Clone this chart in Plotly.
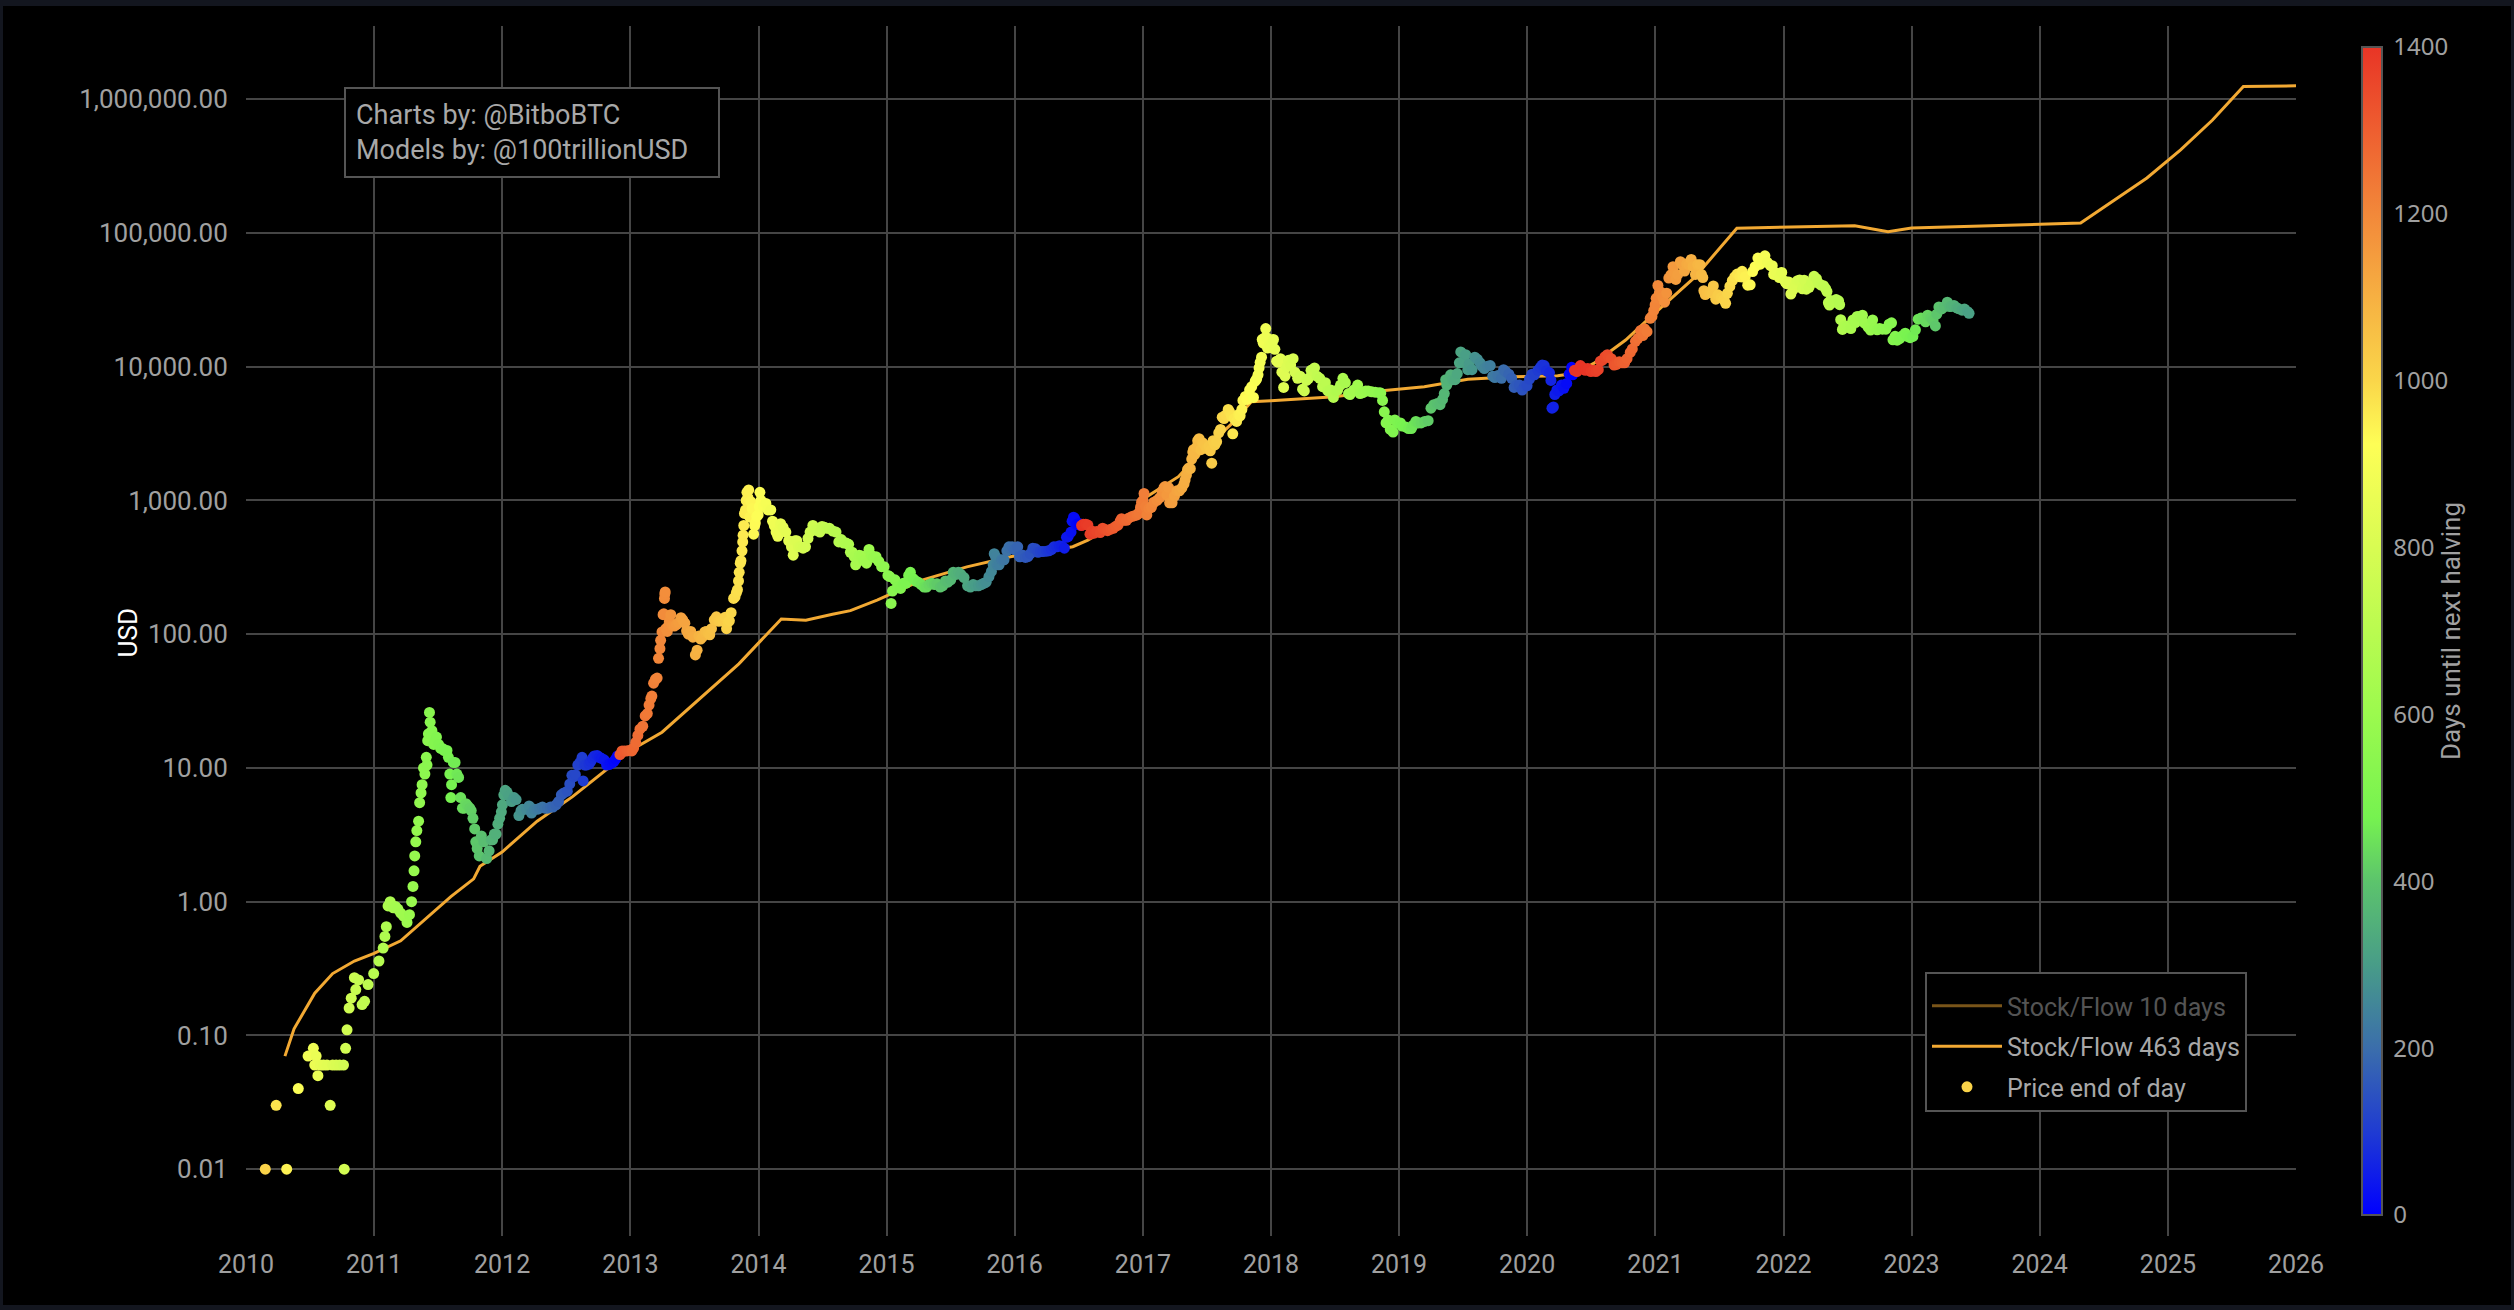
import datetime as dt
import plotly.graph_objects as go

# ---------------- data ----------------
halving_dates = ["2012-11-28", "2016-07-09", "2020-05-11", "2024-04-20"]

# price end of day, (date, USD), per year
price_2010 = [
    ("2010-02-25", 0.01), ("2010-03-28", 0.03), ("2010-04-27", 0.01), ("2010-05-30", 0.04),
    ("2010-06-27", 0.07), ("2010-07-12", 0.08), ("2010-07-16", 0.06), ("2010-07-20", 0.07),
    ("2010-07-25", 0.05), ("2010-08-01", 0.06), ("2010-08-10", 0.06), ("2010-08-20", 0.06),
    ("2010-08-29", 0.03), ("2010-09-05", 0.06), ("2010-09-15", 0.06), ("2010-09-25", 0.06),
    ("2010-10-06", 0.06), ("2010-10-08", 0.01), ("2010-10-12", 0.08), ("2010-10-16", 0.11),
    ("2010-10-22", 0.16), ("2010-10-28", 0.19), ("2010-11-06", 0.27), ("2010-11-10", 0.22),
    ("2010-11-18", 0.26), ("2010-11-28", 0.17), ("2010-12-05", 0.18), ("2010-12-15", 0.24),
    ("2010-12-31", 0.29),
]
price_2011 = [
    ("2011-01-15", 0.36), ("2011-01-27", 0.45), ("2011-02-01", 0.55), ("2011-02-05", 0.65),
    ("2011-02-10", 0.93), ("2011-02-16", 1.0), ("2011-02-25", 0.9), ("2011-03-03", 0.92),
    ("2011-03-10", 0.88), ("2011-03-18", 0.82), ("2011-03-26", 0.78), ("2011-04-05", 0.70),
    ("2011-04-12", 0.80), ("2011-04-18", 1.0), ("2011-04-22", 1.3), ("2011-04-25", 1.7),
    ("2011-04-27", 2.2), ("2011-04-30", 2.8), ("2011-05-03", 3.4), ("2011-05-08", 4.0),
    ("2011-05-11", 5.5), ("2011-05-15", 6.5), ("2011-05-18", 7.5), ("2011-05-22", 10.0),
    ("2011-05-26", 9.0), ("2011-05-30", 12.0), ("2011-06-01", 10.5), ("2011-06-03", 16.0),
    ("2011-06-05", 18.0), ("2011-06-08", 26.0), ("2011-06-10", 22.0), ("2011-06-12", 18.0),
    ("2011-06-15", 19.0), ("2011-06-20", 15.0), ("2011-06-24", 16.0), ("2011-06-28", 17.0),
    ("2011-07-04", 15.0), ("2011-07-10", 14.0), ("2011-07-15", 14.0), ("2011-07-20", 13.5),
    ("2011-07-28", 13.5), ("2011-08-01", 12.0), ("2011-08-05", 9.0), ("2011-08-08", 6.0),
    ("2011-08-10", 7.5), ("2011-08-15", 11.0), ("2011-08-20", 11.0), ("2011-08-25", 9.0),
    ("2011-08-30", 8.5), ("2011-09-05", 6.0), ("2011-09-10", 5.0), ("2011-09-15", 5.0),
    ("2011-09-20", 5.4), ("2011-09-25", 5.2), ("2011-10-01", 5.0), ("2011-10-05", 4.8),
    ("2011-10-10", 4.2), ("2011-10-15", 3.5), ("2011-10-18", 2.8), ("2011-10-22", 2.5),
    ("2011-10-28", 2.2), ("2011-11-03", 3.1), ("2011-11-10", 2.8), ("2011-11-18", 2.1),
    ("2011-11-25", 2.4), ("2011-12-01", 2.9), ("2011-12-05", 2.9), ("2011-12-10", 3.2),
    ("2011-12-15", 3.2), ("2011-12-20", 3.8), ("2011-12-25", 4.2), ("2011-12-30", 4.7),
]
price_2012 = [
    ("2012-01-02", 5.3), ("2012-01-06", 6.3), ("2012-01-10", 6.8), ("2012-01-15", 6.6),
    ("2012-01-20", 6.2), ("2012-01-28", 5.6), ("2012-02-04", 6.0), ("2012-02-10", 5.8),
    ("2012-02-18", 4.4), ("2012-02-24", 4.8), ("2012-02-28", 4.9), ("2012-03-10", 4.9),
    ("2012-03-18", 5.2), ("2012-03-25", 4.6), ("2012-04-02", 4.9), ("2012-04-10", 4.9),
    ("2012-04-18", 5.0), ("2012-04-25", 5.1), ("2012-05-02", 5.0), ("2012-05-10", 5.0),
    ("2012-05-18", 5.1), ("2012-05-25", 5.1), ("2012-06-03", 5.3), ("2012-06-10", 5.6),
    ("2012-06-18", 6.3), ("2012-06-25", 6.5), ("2012-07-05", 6.7), ("2012-07-12", 7.6),
    ("2012-07-18", 8.8), ("2012-07-24", 8.6), ("2012-07-28", 8.9), ("2012-08-04", 10.5),
    ("2012-08-10", 11.0), ("2012-08-16", 12.0), ("2012-08-19", 8.0), ("2012-08-24", 10.5),
    ("2012-08-28", 10.5), ("2012-09-05", 10.7), ("2012-09-10", 11.2), ("2012-09-15", 11.8),
    ("2012-09-20", 12.3), ("2012-09-28", 12.4), ("2012-10-05", 12.0), ("2012-10-10", 11.8),
    ("2012-10-18", 11.5), ("2012-10-25", 10.5), ("2012-11-01", 10.6), ("2012-11-05", 10.8),
    ("2012-11-10", 10.9), ("2012-11-15", 11.2), ("2012-11-20", 11.7), ("2012-11-25", 12.3),
    ("2012-12-02", 12.6), ("2012-12-08", 13.4), ("2012-12-15", 13.4), ("2012-12-22", 13.4),
    ("2012-12-28", 13.5),
]
price_2013 = [
    ("2013-01-05", 13.4), ("2013-01-10", 14.1), ("2013-01-16", 15.5), ("2013-01-22", 17.5),
    ("2013-01-28", 19.5), ("2013-02-05", 20.5), ("2013-02-12", 24.5), ("2013-02-18", 25.5),
    ("2013-02-23", 29.5), ("2013-02-28", 33.0), ("2013-03-03", 34.5), ("2013-03-08", 43.0),
    ("2013-03-13", 46.0), ("2013-03-18", 47.0), ("2013-03-22", 66.0), ("2013-03-26", 78.0),
    ("2013-03-28", 90.0), ("2013-04-01", 104.0), ("2013-04-04", 140.0), ("2013-04-06", 142.0),
    ("2013-04-08", 185.0), ("2013-04-09", 200.0), ("2013-04-10", 207.0), ("2013-04-12", 110.0),
    ("2013-04-16", 105.0), ("2013-04-19", 115.0), ("2013-04-22", 125.0), ("2013-04-26", 140.0),
    ("2013-05-01", 116.0), ("2013-05-06", 115.0), ("2013-05-12", 118.0), ("2013-05-18", 122.0),
    ("2013-05-25", 133.0), ("2013-05-30", 128.0), ("2013-06-05", 121.0), ("2013-06-10", 106.0),
    ("2013-06-15", 100.0), ("2013-06-22", 105.0), ("2013-06-28", 95.0), ("2013-07-05", 70.0),
    ("2013-07-10", 76.0), ("2013-07-15", 97.0), ("2013-07-20", 92.0), ("2013-07-25", 95.0),
    ("2013-08-01", 104.0), ("2013-08-05", 105.0), ("2013-08-10", 102.0), ("2013-08-15", 99.0),
    ("2013-08-20", 110.0), ("2013-08-28", 128.0), ("2013-09-03", 135.0), ("2013-09-10", 125.0),
    ("2013-09-15", 127.0), ("2013-09-20", 126.0), ("2013-09-28", 134.0), ("2013-10-02", 110.0),
    ("2013-10-06", 123.0), ("2013-10-10", 126.0), ("2013-10-15", 145.0), ("2013-10-22", 185.0),
    ("2013-10-26", 190.0), ("2013-10-30", 205.0), ("2013-11-02", 215.0), ("2013-11-05", 250.0),
    ("2013-11-07", 290.0), ("2013-11-10", 340.0), ("2013-11-12", 355.0), ("2013-11-15", 420.0),
    ("2013-11-17", 490.0), ("2013-11-18", 550.0), ("2013-11-20", 650.0), ("2013-11-22", 800.0),
    ("2013-11-25", 850.0), ("2013-11-27", 1000.0), ("2013-11-29", 1150.0), ("2013-12-02", 1050.0),
    ("2013-12-04", 1200.0), ("2013-12-07", 750.0), ("2013-12-10", 980.0), ("2013-12-14", 870.0),
    ("2013-12-18", 560.0), ("2013-12-21", 650.0), ("2013-12-23", 680.0), ("2013-12-27", 760.0),
    ("2013-12-31", 780.0),
]
price_2014 = [
    ("2014-01-03", 900.0), ("2014-01-05", 1150.0), ("2014-01-08", 1000.0), ("2014-01-15", 900.0),
    ("2014-01-22", 950.0), ("2014-01-28", 850.0), ("2014-02-05", 850.0), ("2014-02-10", 700.0),
    ("2014-02-15", 650.0), ("2014-02-20", 580.0), ("2014-02-25", 540.0), ("2014-03-01", 600.0),
    ("2014-03-05", 670.0), ("2014-03-12", 630.0), ("2014-03-20", 580.0), ("2014-03-28", 500.0),
    ("2014-04-05", 450.0), ("2014-04-10", 390.0), ("2014-04-15", 500.0), ("2014-04-20", 500.0),
    ("2014-04-25", 450.0), ("2014-05-01", 450.0), ("2014-05-08", 440.0), ("2014-05-15", 450.0),
    ("2014-05-22", 520.0), ("2014-05-28", 580.0), ("2014-06-05", 650.0), ("2014-06-12", 600.0),
    ("2014-06-18", 600.0), ("2014-06-25", 580.0), ("2014-07-01", 640.0), ("2014-07-08", 630.0),
    ("2014-07-15", 620.0), ("2014-07-22", 620.0), ("2014-08-01", 590.0), ("2014-08-10", 580.0),
    ("2014-08-18", 490.0), ("2014-08-25", 510.0), ("2014-09-01", 480.0), ("2014-09-08", 480.0),
    ("2014-09-15", 470.0), ("2014-09-20", 410.0), ("2014-09-25", 410.0), ("2014-10-01", 380.0),
    ("2014-10-05", 330.0), ("2014-10-10", 360.0), ("2014-10-15", 390.0), ("2014-10-22", 385.0),
    ("2014-10-28", 355.0), ("2014-11-05", 340.0), ("2014-11-12", 430.0), ("2014-11-18", 390.0),
    ("2014-11-25", 375.0), ("2014-12-02", 380.0), ("2014-12-10", 350.0), ("2014-12-18", 320.0),
    ("2014-12-25", 320.0),
]
price_2015 = [
    ("2015-01-05", 275.0), ("2015-01-10", 270.0), ("2015-01-14", 170.0), ("2015-01-18", 210.0),
    ("2015-01-25", 255.0), ("2015-02-01", 225.0), ("2015-02-10", 220.0), ("2015-02-18", 240.0),
    ("2015-02-25", 240.0), ("2015-03-05", 275.0), ("2015-03-10", 290.0), ("2015-03-18", 260.0),
    ("2015-03-25", 250.0), ("2015-04-01", 245.0), ("2015-04-10", 235.0), ("2015-04-18", 225.0),
    ("2015-04-25", 225.0), ("2015-05-02", 235.0), ("2015-05-10", 240.0), ("2015-05-18", 235.0),
    ("2015-05-25", 238.0), ("2015-06-03", 225.0), ("2015-06-10", 230.0), ("2015-06-18", 250.0),
    ("2015-06-25", 245.0), ("2015-07-03", 255.0), ("2015-07-10", 290.0), ("2015-07-18", 280.0),
    ("2015-07-25", 290.0), ("2015-08-01", 280.0), ("2015-08-10", 265.0), ("2015-08-20", 230.0),
    ("2015-08-28", 225.0), ("2015-09-05", 235.0), ("2015-09-12", 230.0), ("2015-09-20", 230.0),
    ("2015-09-28", 235.0), ("2015-10-05", 240.0), ("2015-10-12", 245.0), ("2015-10-20", 270.0),
    ("2015-10-27", 295.0), ("2015-11-01", 330.0), ("2015-11-04", 400.0), ("2015-11-08", 380.0),
    ("2015-11-12", 330.0), ("2015-11-18", 330.0), ("2015-11-25", 360.0), ("2015-12-02", 360.0),
    ("2015-12-10", 420.0), ("2015-12-16", 450.0), ("2015-12-20", 440.0), ("2015-12-25", 450.0),
    ("2015-12-31", 430.0),
]
price_2016 = [
    ("2016-01-05", 430.0), ("2016-01-10", 450.0), ("2016-01-15", 380.0), ("2016-01-18", 380.0),
    ("2016-01-25", 390.0), ("2016-02-01", 375.0), ("2016-02-08", 380.0), ("2016-02-15", 400.0),
    ("2016-02-22", 440.0), ("2016-03-01", 435.0), ("2016-03-08", 410.0), ("2016-03-15", 415.0),
    ("2016-03-22", 415.0), ("2016-04-01", 418.0), ("2016-04-08", 420.0), ("2016-04-15", 430.0),
    ("2016-04-22", 450.0), ("2016-05-01", 450.0), ("2016-05-08", 458.0), ("2016-05-15", 455.0),
    ("2016-05-22", 440.0), ("2016-05-28", 530.0), ("2016-06-02", 540.0), ("2016-06-10", 580.0),
    ("2016-06-13", 700.0), ("2016-06-17", 750.0), ("2016-06-20", 735.0), ("2016-06-25", 660.0),
    ("2016-06-30", 670.0), ("2016-07-05", 670.0), ("2016-07-08", 650.0), ("2016-07-10", 650.0),
    ("2016-07-15", 665.0), ("2016-07-22", 665.0), ("2016-07-28", 655.0), ("2016-08-03", 560.0),
    ("2016-08-08", 590.0), ("2016-08-15", 570.0), ("2016-08-22", 585.0), ("2016-09-01", 575.0),
    ("2016-09-08", 620.0), ("2016-09-15", 608.0), ("2016-09-22", 595.0), ("2016-10-01", 610.0),
    ("2016-10-08", 620.0), ("2016-10-15", 640.0), ("2016-10-22", 655.0), ("2016-10-28", 700.0),
    ("2016-11-01", 730.0), ("2016-11-08", 710.0), ("2016-11-15", 710.0), ("2016-11-22", 740.0),
    ("2016-12-01", 760.0), ("2016-12-08", 770.0), ("2016-12-15", 780.0), ("2016-12-20", 800.0),
    ("2016-12-25", 890.0), ("2016-12-28", 970.0),
]
price_2017 = [
    ("2017-01-01", 1000.0), ("2017-01-04", 1130.0), ("2017-01-08", 900.0), ("2017-01-12", 780.0),
    ("2017-01-18", 870.0), ("2017-01-25", 890.0), ("2017-02-01", 970.0), ("2017-02-10", 1000.0),
    ("2017-02-18", 1050.0), ("2017-02-25", 1170.0), ("2017-03-02", 1250.0), ("2017-03-05", 1270.0),
    ("2017-03-10", 1100.0), ("2017-03-15", 1250.0), ("2017-03-18", 960.0), ("2017-03-25", 960.0),
    ("2017-04-01", 1080.0), ("2017-04-08", 1180.0), ("2017-04-15", 1180.0), ("2017-04-22", 1240.0),
    ("2017-04-28", 1330.0), ("2017-05-01", 1420.0), ("2017-05-05", 1550.0), ("2017-05-08", 1700.0),
    ("2017-05-12", 1750.0), ("2017-05-16", 1730.0), ("2017-05-20", 2040.0), ("2017-05-23", 2300.0),
    ("2017-05-25", 2400.0), ("2017-05-28", 2200.0), ("2017-06-03", 2500.0), ("2017-06-06", 2800.0),
    ("2017-06-10", 2900.0), ("2017-06-15", 2400.0), ("2017-06-20", 2700.0), ("2017-06-25", 2600.0),
    ("2017-07-01", 2450.0), ("2017-07-08", 2550.0), ("2017-07-12", 2350.0), ("2017-07-16", 1900.0),
    ("2017-07-20", 2800.0), ("2017-07-25", 2600.0), ("2017-07-30", 2750.0), ("2017-08-05", 3200.0),
    ("2017-08-10", 3400.0), ("2017-08-15", 4200.0), ("2017-08-20", 4100.0), ("2017-08-25", 4350.0),
    ("2017-09-01", 4800.0), ("2017-09-05", 4600.0), ("2017-09-10", 4300.0), ("2017-09-14", 3150.0),
    ("2017-09-18", 4100.0), ("2017-09-25", 3900.0), ("2017-10-01", 4400.0), ("2017-10-05", 4300.0),
    ("2017-10-10", 4800.0), ("2017-10-13", 5600.0), ("2017-10-20", 6000.0), ("2017-10-25", 5700.0),
    ("2017-11-01", 6700.0), ("2017-11-07", 7100.0), ("2017-11-12", 5900.0), ("2017-11-17", 7800.0),
    ("2017-11-21", 8100.0), ("2017-11-25", 8700.0), ("2017-11-28", 9800.0), ("2017-12-01", 10800.0),
    ("2017-12-05", 11800.0), ("2017-12-07", 16000.0), ("2017-12-10", 15000.0), ("2017-12-13", 16400.0),
    ("2017-12-17", 19300.0), ("2017-12-20", 16500.0), ("2017-12-22", 13800.0), ("2017-12-25", 13900.0),
    ("2017-12-28", 14500.0), ("2017-12-31", 14000.0),
]
price_2018 = [
    ("2018-01-04", 15000.0), ("2018-01-08", 16000.0), ("2018-01-12", 13500.0), ("2018-01-17", 11000.0),
    ("2018-01-22", 10800.0), ("2018-01-28", 11500.0), ("2018-02-01", 9100.0), ("2018-02-06", 7000.0),
    ("2018-02-10", 8500.0), ("2018-02-15", 10000.0), ("2018-02-20", 11200.0), ("2018-02-26", 10300.0),
    ("2018-03-05", 11500.0), ("2018-03-10", 9100.0), ("2018-03-18", 8200.0), ("2018-03-25", 8500.0),
    ("2018-04-01", 6800.0), ("2018-04-06", 6600.0), ("2018-04-12", 7900.0), ("2018-04-18", 8200.0),
    ("2018-04-25", 9400.0), ("2018-05-05", 9800.0), ("2018-05-12", 8500.0), ("2018-05-20", 8200.0),
    ("2018-05-28", 7100.0), ("2018-06-05", 7600.0), ("2018-06-12", 6600.0), ("2018-06-20", 6700.0),
    ("2018-06-28", 5900.0), ("2018-07-05", 6600.0), ("2018-07-10", 6700.0), ("2018-07-18", 7300.0),
    ("2018-07-25", 8200.0), ("2018-08-01", 7600.0), ("2018-08-10", 6300.0), ("2018-08-14", 6200.0),
    ("2018-08-25", 6700.0), ("2018-09-05", 7300.0), ("2018-09-12", 6300.0), ("2018-09-20", 6400.0),
    ("2018-09-28", 6600.0), ("2018-10-05", 6600.0), ("2018-10-15", 6500.0), ("2018-10-25", 6450.0),
    ("2018-11-05", 6400.0), ("2018-11-10", 6350.0), ("2018-11-15", 5600.0), ("2018-11-20", 4600.0),
    ("2018-11-25", 3800.0), ("2018-12-01", 4000.0), ("2018-12-07", 3400.0), ("2018-12-15", 3250.0),
    ("2018-12-20", 4000.0), ("2018-12-28", 3800.0),
]
price_2019 = [
    ("2019-01-05", 3800.0), ("2019-01-10", 3600.0), ("2019-01-20", 3550.0), ("2019-01-28", 3450.0),
    ("2019-02-05", 3450.0), ("2019-02-10", 3650.0), ("2019-02-18", 3900.0), ("2019-02-25", 3800.0),
    ("2019-03-05", 3800.0), ("2019-03-15", 3900.0), ("2019-03-25", 3950.0), ("2019-04-02", 4900.0),
    ("2019-04-10", 5200.0), ("2019-04-20", 5300.0), ("2019-04-28", 5200.0), ("2019-05-05", 5700.0),
    ("2019-05-10", 6300.0), ("2019-05-14", 8000.0), ("2019-05-17", 7300.0), ("2019-05-22", 7900.0),
    ("2019-05-28", 8700.0), ("2019-06-03", 8000.0), ("2019-06-10", 8000.0), ("2019-06-16", 8900.0),
    ("2019-06-22", 10700.0), ("2019-06-26", 12900.0), ("2019-06-30", 10800.0), ("2019-07-05", 11000.0),
    ("2019-07-10", 12300.0), ("2019-07-16", 9500.0), ("2019-07-20", 10500.0), ("2019-07-28", 9500.0),
    ("2019-08-05", 11800.0), ("2019-08-12", 11400.0), ("2019-08-20", 10700.0), ("2019-08-25", 10100.0),
    ("2019-09-01", 9700.0), ("2019-09-10", 10100.0), ("2019-09-18", 10200.0), ("2019-09-25", 8500.0),
    ("2019-10-01", 8300.0), ("2019-10-10", 8600.0), ("2019-10-20", 8200.0), ("2019-10-26", 9500.0),
    ("2019-11-01", 9200.0), ("2019-11-10", 8800.0), ("2019-11-18", 8200.0), ("2019-11-25", 7000.0),
    ("2019-12-02", 7300.0), ("2019-12-10", 7300.0), ("2019-12-18", 6700.0), ("2019-12-25", 7200.0),
]
price_2020 = [
    ("2020-01-01", 7200.0), ("2020-01-08", 8100.0), ("2020-01-15", 8800.0), ("2020-01-22", 8700.0),
    ("2020-02-01", 9400.0), ("2020-02-08", 9900.0), ("2020-02-13", 10300.0), ("2020-02-19", 10200.0),
    ("2020-02-25", 9300.0), ("2020-03-05", 9000.0), ("2020-03-09", 7900.0), ("2020-03-12", 4900.0),
    ("2020-03-16", 5000.0), ("2020-03-20", 6200.0), ("2020-03-26", 6700.0), ("2020-04-01", 6600.0),
    ("2020-04-08", 7300.0), ("2020-04-15", 6900.0), ("2020-04-23", 7500.0), ("2020-04-30", 8800.0),
    ("2020-05-07", 9900.0), ("2020-05-10", 8700.0), ("2020-05-15", 9400.0), ("2020-05-22", 9200.0),
    ("2020-06-01", 10200.0), ("2020-06-08", 9800.0), ("2020-06-15", 9400.0), ("2020-06-22", 9700.0),
    ("2020-07-01", 9200.0), ("2020-07-08", 9400.0), ("2020-07-15", 9200.0), ("2020-07-22", 9500.0),
    ("2020-07-28", 11000.0), ("2020-08-03", 11200.0), ("2020-08-10", 11900.0), ("2020-08-17", 12300.0),
    ("2020-08-20", 11800.0), ("2020-08-28", 11500.0), ("2020-09-05", 10300.0), ("2020-09-12", 10400.0),
    ("2020-09-20", 10900.0), ("2020-09-28", 10700.0), ("2020-10-05", 10700.0), ("2020-10-12", 11500.0),
    ("2020-10-21", 12800.0), ("2020-10-27", 13600.0), ("2020-11-05", 15500.0), ("2020-11-12", 16300.0),
    ("2020-11-20", 18700.0), ("2020-11-26", 17100.0), ("2020-12-01", 19200.0), ("2020-12-08", 18300.0),
    ("2020-12-17", 23000.0), ("2020-12-22", 23800.0), ("2020-12-27", 26300.0), ("2020-12-31", 29000.0),
]
price_2021 = [
    ("2021-01-03", 32500.0), ("2021-01-08", 40500.0), ("2021-01-12", 35500.0), ("2021-01-17", 36000.0),
    ("2021-01-22", 33000.0), ("2021-01-27", 30400.0), ("2021-02-02", 35500.0), ("2021-02-08", 46000.0),
    ("2021-02-14", 48700.0), ("2021-02-20", 56000.0), ("2021-02-24", 49700.0), ("2021-02-28", 45000.0),
    ("2021-03-05", 48800.0), ("2021-03-13", 61000.0), ("2021-03-18", 58000.0), ("2021-03-25", 52000.0),
    ("2021-03-31", 58800.0), ("2021-04-06", 58000.0), ("2021-04-13", 63500.0), ("2021-04-18", 56200.0),
    ("2021-04-25", 49000.0), ("2021-05-01", 57800.0), ("2021-05-08", 58000.0), ("2021-05-12", 49000.0),
    ("2021-05-16", 46400.0), ("2021-05-19", 37000.0), ("2021-05-23", 34700.0), ("2021-05-28", 35600.0),
    ("2021-06-05", 36000.0), ("2021-06-12", 35500.0), ("2021-06-15", 40200.0), ("2021-06-22", 32000.0),
    ("2021-06-28", 34500.0), ("2021-07-08", 33000.0), ("2021-07-15", 31800.0), ("2021-07-20", 29800.0),
    ("2021-07-25", 35400.0), ("2021-08-01", 39900.0), ("2021-08-08", 44000.0), ("2021-08-15", 47000.0),
    ("2021-08-22", 49300.0), ("2021-08-30", 47000.0), ("2021-09-05", 51700.0), ("2021-09-07", 46800.0),
    ("2021-09-14", 47100.0), ("2021-09-21", 40700.0), ("2021-09-28", 41000.0), ("2021-10-05", 51500.0),
    ("2021-10-12", 56000.0), ("2021-10-20", 65000.0), ("2021-10-27", 58500.0), ("2021-11-02", 63200.0),
    ("2021-11-09", 67500.0), ("2021-11-16", 60300.0), ("2021-11-25", 57000.0), ("2021-11-30", 57000.0),
    ("2021-12-04", 49000.0), ("2021-12-12", 50100.0), ("2021-12-20", 46500.0), ("2021-12-27", 50700.0),
]
price_2022 = [
    ("2022-01-05", 43500.0), ("2022-01-10", 41800.0), ("2022-01-16", 43100.0), ("2022-01-22", 35000.0),
    ("2022-01-28", 37700.0), ("2022-02-04", 41500.0), ("2022-02-10", 44000.0), ("2022-02-16", 44500.0),
    ("2022-02-24", 38300.0), ("2022-03-01", 44400.0), ("2022-03-07", 38000.0), ("2022-03-15", 39300.0),
    ("2022-03-22", 42400.0), ("2022-03-29", 47400.0), ("2022-04-05", 45500.0), ("2022-04-10", 42200.0),
    ("2022-04-18", 40800.0), ("2022-04-25", 40400.0), ("2022-05-01", 38400.0), ("2022-05-05", 36500.0),
    ("2022-05-09", 30100.0), ("2022-05-12", 28900.0), ("2022-05-15", 31300.0), ("2022-05-22", 30300.0),
    ("2022-05-31", 31800.0), ("2022-06-07", 31100.0), ("2022-06-10", 29100.0), ("2022-06-13", 22500.0),
    ("2022-06-18", 19000.0), ("2022-06-22", 20000.0), ("2022-06-28", 20200.0), ("2022-07-04", 20200.0),
    ("2022-07-12", 19300.0), ("2022-07-18", 22400.0), ("2022-07-25", 21400.0), ("2022-07-30", 23800.0),
    ("2022-08-08", 23800.0), ("2022-08-14", 24300.0), ("2022-08-20", 21200.0), ("2022-08-30", 19800.0),
    ("2022-09-06", 18800.0), ("2022-09-12", 22400.0), ("2022-09-18", 19400.0), ("2022-09-25", 18900.0),
    ("2022-10-02", 19300.0), ("2022-10-10", 19100.0), ("2022-10-20", 19100.0), ("2022-10-29", 20800.0),
    ("2022-11-05", 21300.0), ("2022-11-09", 15900.0), ("2022-11-15", 16900.0), ("2022-11-21", 15800.0),
    ("2022-11-28", 16200.0), ("2022-12-05", 17000.0), ("2022-12-14", 17800.0), ("2022-12-20", 16900.0),
    ("2022-12-28", 16500.0),
]
price_2023 = [
    ("2023-01-05", 16850.0), ("2023-01-12", 18900.0), ("2023-01-20", 22700.0), ("2023-01-28", 23100.0),
    ("2023-02-05", 23000.0), ("2023-02-10", 21700.0), ("2023-02-16", 24300.0), ("2023-02-25", 23200.0),
    ("2023-03-03", 22300.0), ("2023-03-10", 20200.0), ("2023-03-14", 24700.0), ("2023-03-20", 28000.0),
    ("2023-03-28", 27100.0), ("2023-04-05", 28200.0), ("2023-04-13", 30400.0), ("2023-04-20", 28200.0),
    ("2023-04-25", 28300.0), ("2023-05-02", 28700.0), ("2023-05-10", 27600.0), ("2023-05-15", 27200.0),
    ("2023-05-25", 26500.0), ("2023-06-01", 27000.0), ("2023-06-10", 25800.0), ("2023-06-14", 25100.0),
]

# Stock/Flow 463-day model line
sf_dates = [
    "2010-04-22", "2010-05-18", "2010-07-16", "2010-09-05", "2010-11-06", "2011-01-01", "2011-03-18",
    "2011-06-10", "2011-08-08", "2011-10-12", "2011-10-30", "2012-01-01", "2012-04-10", "2012-07-20",
    "2012-10-30", "2013-01-01", "2013-04-01", "2013-07-12", "2013-11-06", "2014-03-07", "2014-05-16",
    "2014-07-31", "2014-09-20", "2014-12-05", "2015-04-12", "2015-08-18", "2015-12-20", "2016-06-15",
    "2016-07-28", "2016-12-06", "2017-01-12", "2017-04-12", "2017-06-13", "2017-09-12", "2017-11-06",
    "2018-01-01", "2018-07-01", "2018-11-06", "2019-03-14", "2019-07-16", "2019-11-21", "2020-03-28",
    "2020-05-18", "2020-07-09", "2020-10-08", "2020-12-09", "2021-04-24", "2021-08-21", "2022-07-23",
    "2022-10-26", "2023-01-01", "2024-04-27", "2024-11-02", "2025-02-06", "2025-05-08", "2025-08-04",
    "2026-01-01",
]
sf_463_usd = [
    0.07, 0.112, 0.207, 0.29, 0.36, 0.41, 0.51,
    0.80, 1.09, 1.48, 1.84, 2.35, 4.0, 6.1,
    10.0, 13.5, 18.5, 32.0, 60.0, 130.0, 127.0,
    141.0, 150.0, 180.0, 254.0, 319.0, 379.0, 451.0,
    506.0, 805.0, 1067.0, 1507.0, 2250.0, 3770.0, 5470.0,
    5570.0, 5970.0, 6580.0, 7080.0, 8050.0, 8420.0, 8570.0,
    8940.0, 10600.0, 15850.0, 22400.0, 47000.0, 108600.0, 113500.0,
    102400.0, 108900.0, 118600.0, 258000.0, 418000.0, 700000.0, 1248000.0,
    1260000.0,
]

y_tick_values = [0.01, 0.1, 1, 10, 100, 1000, 10000, 100000, 1000000]
colorbar_ticks = [0, 200, 400, 600, 800, 1000, 1200, 1400]

# ---------------- derived ----------------
all_prices = (price_2010 + price_2011 + price_2012 + price_2013 + price_2014 + price_2015
              + price_2016 + price_2017 + price_2018 + price_2019 + price_2020 + price_2021
              + price_2022 + price_2023)
price_dates = [d for d, _ in all_prices]
price_usd = [v for _, v in all_prices]

halvings = [dt.date.fromisoformat(h) for h in halving_dates]


def days_to_halving(d):
    day = dt.date.fromisoformat(d)
    for h in halvings:
        if h > day:
            return (h - day).days
    return 0


price_days = [days_to_halving(d) for d in price_dates]

colorscale = [
    [0.000, "#0000ff"],
    [0.071, "#1f3bd2"],
    [0.143, "#3b6eab"],
    [0.214, "#489c88"],
    [0.286, "#5cc46c"],
    [0.340, "#76f250"],
    [0.430, "#9cfa4e"],
    [0.571, "#d8fc52"],
    [0.660, "#fefe56"],
    [0.714, "#fad64a"],
    [0.786, "#f6b042"],
    [0.857, "#f2883a"],
    [0.929, "#ee5e30"],
    [1.000, "#e83526"],
]

FONT = "Roboto, 'DejaVu Sans', sans-serif"
GRID = "#454545"
TXT = "#a0a0a0"
FRAME = "#13161f"

fig = go.Figure()

fig.add_trace(go.Scatter(
    x=sf_dates, y=sf_463_usd, mode="lines", name="Stock/Flow 10 days",
    line=dict(color="#f2a933", width=3), visible="legendonly", legendgroup="a",
))
fig.add_trace(go.Scatter(
    x=sf_dates, y=sf_463_usd, mode="lines", name="Stock/Flow 463 days",
    line=dict(color="#f2a933", width=3), legendgroup="b",
))
fig.add_trace(go.Scatter(
    x=price_dates, y=price_usd, mode="markers", name="Price end of day",
    legendgroup="c",
    marker=dict(
        size=11, color=price_days, cmin=0, cmax=1400, colorscale=colorscale,
        line=dict(width=0),
        colorbar=dict(
            x=(2362 - 246) / 2050, xanchor="left", xpad=0,
            y=0.5, yanchor="middle", ypad=0,
            lenmode="pixels", len=1168, thickness=20,
            outlinecolor="#555555", outlinewidth=2,
            tickvals=colorbar_ticks, ticks="outside", ticklen=6,
            tickcolor="rgba(0,0,0,0)",
            tickfont=dict(family="'Noto Sans', Roboto, sans-serif", size=24, color=TXT),
            title=dict(text="Days until next halving", side="right",
                       font=dict(family=FONT, size=26, color=TXT)),
        ),
    ),
))

fig.update_layout(
    width=2514, height=1310,
    margin=dict(l=246, r=218, t=26, b=74),
    paper_bgcolor=FRAME,
    plot_bgcolor="#000000",
    font=dict(family=FONT, size=25, color=TXT),
    showlegend=True,
    legend=dict(
        x=(1925 - 246) / 2050, y=(1236 - 972) / 1210, xanchor="left", yanchor="top",
        bgcolor="#000000", bordercolor="#555555", borderwidth=2,
        font=dict(family=FONT, size=25, color="#a8a8a8"),
        tracegroupgap=5, itemwidth=70,
        title=dict(text="&nbsp;", font=dict(size=7)),
    ),
    xaxis=dict(
        type="date", range=["2010-01-01", "2026-01-01"],
        dtick="M12", tick0="2010-01-01", tickformat="%Y",
        showgrid=True, gridcolor=GRID, gridwidth=2, zeroline=False, showline=False,
        ticks="outside", ticklen=6, tickcolor="rgba(0,0,0,0)",
        tickfont=dict(family=FONT, size=25, color=TXT),
    ),
    yaxis=dict(
        type="log", range=[-2.5, 6.548],
        tickvals=y_tick_values, tickformat=",.2f",
        showgrid=True, gridcolor=GRID, gridwidth=2, zeroline=False, showline=False,
        ticks="outside", ticklen=12, tickcolor="rgba(0,0,0,0)",
        tickfont=dict(family=FONT, size=26, color=TXT),
    ),
    shapes=[dict(
        type="rect", xref="paper", yref="paper", layer="below",
        x0=(3 - 246) / 2050, x1=(2511 - 246) / 2050,
        y0=(1236 - 1305) / 1210, y1=(1236 - 6) / 1210,
        fillcolor="#000000", line=dict(width=0),
    )],
    annotations=[
        dict(
            text="Charts by: @BitboBTC<br>Models by: @100trillionUSD&nbsp;&nbsp;&nbsp;",
            xref="paper", yref="paper", x=(344 - 246) / 2050, y=(1236 - 87) / 1210,
            xanchor="left", yanchor="top", align="left", showarrow=False,
            font=dict(family=FONT, size=27, color="#a8a8a8"),
            bordercolor="#555555", borderwidth=2, borderpad=10, bgcolor="#000000",
        ),
        dict(
            text="USD", xref="paper", yref="paper", x=(128 - 246) / 2050, y=0.498,
            xanchor="center", yanchor="middle", textangle=-90, showarrow=False,
            font=dict(family=FONT, size=26, color="#ffffff"),
        ),
    ],
)

fig.write_html(
    "out.html",
    config={"displayModeBar": False},
    post_script=(
        "document.body.style.margin='0px';"
        "document.body.style.padding='0px';"
        "document.body.style.background='" + FRAME + "';"
    ),
)
